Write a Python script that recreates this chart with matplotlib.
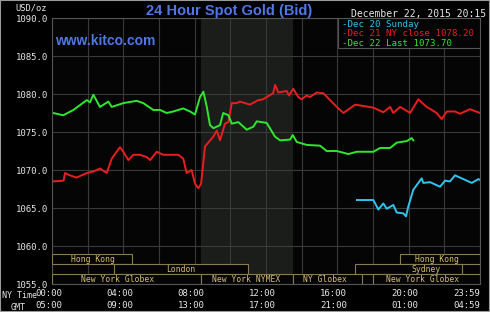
import numpy as np
import matplotlib.pyplot as plt
import matplotlib.transforms as mtransforms
from matplotlib.patches import Rectangle

# hours (NY time) and bid prices
green_h = [0.07, 0.63, 1.2, 1.95, 2.13, 2.32, 2.69, 3.16, 3.35, 4.0, 4.75, 5.12, 5.68,
           6.06, 6.43, 6.8, 7.36, 7.74, 8.02, 8.3, 8.49, 8.68, 8.86, 9.05, 9.42, 9.6,
           9.89, 10.08, 10.45, 10.92, 11.29, 11.48, 12.04, 12.5, 12.79, 13.35, 13.5,
           13.72, 14.28, 15.03, 15.4, 15.97, 16.62, 17.09, 18.02, 18.4, 18.96, 19.33,
           19.89, 20.17, 20.26]
green_p = [1077.5, 1077.2, 1077.9, 1079.2, 1078.9, 1079.9, 1078.3, 1079.0, 1078.3,
           1078.8, 1079.1, 1078.8, 1077.9, 1077.9, 1077.5, 1077.7, 1078.1, 1077.7,
           1077.3, 1079.6, 1080.3, 1078.3, 1075.9, 1075.5, 1075.9, 1077.5, 1077.2,
           1076.1, 1076.3, 1075.3, 1075.7, 1076.4, 1076.2, 1074.4, 1073.9, 1074.0,
           1074.6, 1073.7, 1073.3, 1073.2, 1072.5, 1072.5, 1072.1, 1072.4, 1072.4,
           1072.9, 1072.9, 1073.6, 1073.8, 1074.2, 1073.9]

red_h = [0.07, 0.65, 0.73, 1.0, 1.38, 1.95, 2.32, 2.69, 3.07, 3.35, 3.81, 4.0, 4.28,
         4.56, 4.94, 5.31, 5.5, 5.87, 6.24, 6.71, 7.08, 7.36, 7.55, 7.83, 8.02, 8.21,
         8.36, 8.58, 9.05, 9.24, 9.42, 9.7, 9.89, 10.08, 10.36, 10.54, 11.1, 11.57,
         11.83, 12.4, 12.51, 12.69, 13.16, 13.29, 13.53, 13.81, 14.0, 14.28, 14.47,
         14.85, 15.22, 15.59, 15.97, 16.34, 17.0, 18.02, 18.58, 18.96, 19.14, 19.52,
         20.08, 20.54, 21.01, 21.3, 21.57, 21.85, 22.14, 22.6, 22.88, 23.44, 24.0]
red_p = [1068.5, 1068.6, 1069.6, 1069.3, 1069.0, 1069.6, 1069.8, 1070.2, 1069.6,
         1071.5, 1073.0, 1072.4, 1071.3, 1072.0, 1072.0, 1071.7, 1071.3, 1072.4,
         1072.0, 1072.0, 1072.0, 1071.5, 1069.6, 1070.0, 1068.2, 1067.6, 1068.2,
         1073.1, 1074.4, 1075.2, 1073.9, 1076.1, 1076.3, 1078.8, 1078.8, 1079.0,
         1078.6, 1079.2, 1079.3, 1080.1, 1081.2, 1080.2, 1080.4, 1079.8, 1080.7,
         1079.6, 1079.3, 1079.8, 1079.6, 1080.2, 1080.1, 1079.2, 1078.3, 1077.5,
         1078.6, 1078.2, 1077.6, 1078.3, 1077.5, 1078.3, 1077.5, 1079.3, 1078.3,
         1077.9, 1077.5, 1076.7, 1077.7, 1077.7, 1077.4, 1078.0, 1077.5]

cyan_h = [17.1, 18.02, 18.3, 18.58, 18.77, 19.14, 19.33, 19.7, 19.85, 19.98, 20.26,
          20.73, 20.82, 21.2, 21.76, 22.04, 22.32, 22.6, 23.07, 23.54, 23.91, 24.0]
cyan_p = [1066.05, 1066.05, 1064.8, 1065.6, 1064.9, 1065.4, 1064.4, 1064.3, 1063.9,
          1065.2, 1067.4, 1068.9, 1068.3, 1068.4, 1067.8, 1068.6, 1068.5, 1069.3,
          1068.8, 1068.3, 1068.8, 1068.7]

legend_labels = ['-Dec 20 Sunday', '-Dec 21 NY close 1078.20', '-Dec 22 Last 1073.70']

# trading sessions: name, start hour, end hour, row (0 = bottom), label hour
session_names = ['Hong Kong', 'Hong Kong', 'London', 'Sydney', 'New York Globex',
                 'New York NYMEX', 'NY Globex', 'New York Globex']
session_start = [0, 19.5, 3.5, 17.0, 0, 8.33, 13.5, 18.0]
session_end = [4.5, 24, 11.0, 23.0, 8.33, 13.5, 17.4, 24]
session_row = [2, 2, 1, 1, 0, 0, 0, 0]
session_label_h = [2.3, 21.6, 7.2, 21.0, 3.7, 10.9, 15.3, 20.8]

ny_ticks = [0, 4, 8, 12, 16, 20, 24]
ny_labels = ['00:00', '04:00', '08:00', '12:00', '16:00', '20:00', '23:59']
gmt_labels = ['05:00', '09:00', '13:00', '17:00', '21:00', '01:00', '04:59']
comex_open, comex_close = 8.33, 13.5

mono = 'DejaVu Sans Mono'
grid_c = '#3a3a3a'
blue = '#4f78e6'

fig = plt.figure(figsize=(4.9, 3.12), dpi=100, facecolor='black')
ax = fig.add_axes([52 / 490, 28 / 312, 428 / 490, 266 / 312])
ax.set_facecolor('#050505')
ax.set_xlim(0, 24)
ax.set_ylim(1055, 1090)
ax.set_xticks(range(0, 25, 2))
yt = np.arange(1055, 1091, 5)
ax.set_yticks(yt)
ax.set_yticklabels([f'{v:.1f}' for v in yt], family=mono, fontsize=6.5, color='#e8e8e8')
ax.tick_params(length=0, labelbottom=False, pad=3)
ax.grid(color=grid_c, lw=0.8, zorder=0)
ax.set_axisbelow(True)
for s in ax.spines.values():
    s.set_color('#555555')
    s.set_linewidth(0.8)

ax.axvspan(comex_open, comex_close, color='#1b1d1b', zorder=0.5, lw=0)

ax.plot(red_h, red_p, color='#e81e1e', lw=1.4, zorder=2)
ax.plot(green_h, green_p, color='#2ee82e', lw=1.4, zorder=2)
ax.plot(cyan_h, cyan_p, color='#2ec4ee', lw=1.4, zorder=2)

# session boxes at the bottom of the plot
trans = mtransforms.blended_transform_factory(ax.transData, ax.transAxes)
row_h = 10 / 266
for name, x0, x1, row, lx in zip(session_names, session_start, session_end,
                                 session_row, session_label_h):
    ax.add_patch(Rectangle((x0, row * row_h), x1 - x0, row_h, transform=trans,
                           facecolor='#050505', edgecolor='#8a7a52', lw=0.8, zorder=3))
    ax.text(lx, row * row_h + row_h / 2, name, transform=trans, ha='center',
            va='center', family=mono, fontsize=5.8, color='#d8bf72', zorder=4)

# legend box
ax.add_patch(Rectangle((0.668, 0.887), 0.332, 0.113, transform=ax.transAxes,
                       facecolor='#050505', edgecolor='#555555', lw=0.8, zorder=3))
for lab, col, yy in zip(legend_labels, ['#2ec4ee', '#e81e1e', '#2ee82e'],
                        [0.975, 0.942, 0.906]):
    ax.text(0.678, yy, lab, transform=ax.transAxes, ha='left', va='center',
            family=mono, fontsize=6.6, color=col, zorder=4)

# time axis labels
for h, ny, gmt in zip(ny_ticks, ny_labels, gmt_labels):
    ha = 'right' if h == 24 else 'center'
    xx = h if h == 24 else h - 0.2
    ax.text(xx, -0.035, ny, transform=trans, ha=ha, va='center', family=mono,
            fontsize=6.5, color='#e8e8e8', clip_on=False)
    ax.text(xx, -0.08, gmt, transform=trans, ha=ha, va='center', family=mono,
            fontsize=6.5, color='#e8e8e8', clip_on=False)
fig.text(2 / 490, 1 - 296 / 312, 'NY Time', ha='left', va='center', family=mono,
         fontsize=6, color='#e8e8e8')
fig.text(18 / 490, 1 - 307 / 312, 'GMT', ha='center', va='center', family=mono,
         fontsize=6, color='#e8e8e8')

fig.text(31 / 490, 1 - 8 / 312, 'USD/oz', ha='center', va='center', family=mono,
         fontsize=6.3, color='#e8e8e8')
fig.text(229 / 490, 1 - 11 / 312, '24 Hour Spot Gold (Bid)', ha='center', va='center',
         family='Liberation Sans', fontweight='bold', fontsize=10.5, color=blue)
fig.text(55 / 490, 1 - 41 / 312, 'www.kitco.com', ha='left', va='center',
         family='Liberation Sans', fontweight='bold', fontsize=10, color=blue)
fig.text(486 / 490, 1 - 14 / 312, 'December 22, 2015 20:15', ha='right', va='center',
         family=mono, fontsize=7, color='#e8e8e8')

fig.patches.append(Rectangle((0, 0), 1, 1, transform=fig.transFigure, fill=False,
                             edgecolor='#9a9a9a', lw=1.5))

fig.savefig('out.png', dpi=100, facecolor='black')
